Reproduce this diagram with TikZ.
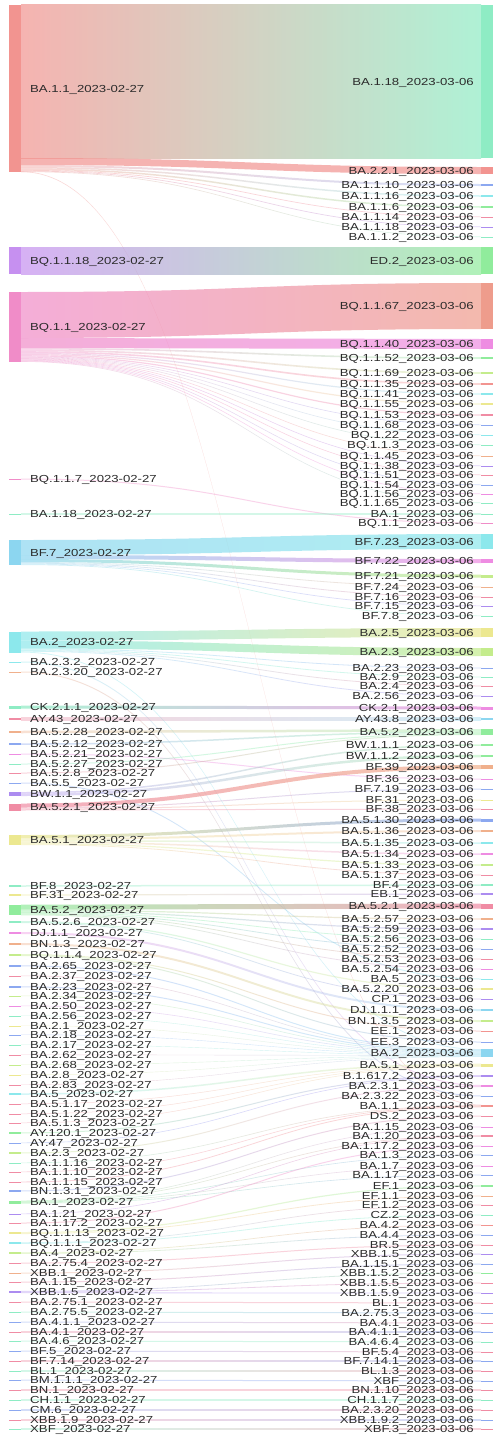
\documentclass[tikz,border=0pt]{standalone}
\usepackage{fontspec}
\setmainfont{Liberation Sans}[FakeStretch=1.29]
\usetikzlibrary{calc}
\definecolor{labtxt}{HTML}{2B2B2B}
\definecolor{cred}{HTML}{F29490}
\definecolor{cmint}{HTML}{8EECC4}
\definecolor{cpurple}{HTML}{C690F0}
\definecolor{cpink}{HTML}{F08CC8}
\definecolor{csalmon}{HTML}{EE9C8C}
\definecolor{cmagenta}{HTML}{EE8CE2}
\definecolor{csky}{HTML}{8CD6F0}
\definecolor{ccyan}{HTML}{8CE8EC}
\definecolor{cgreen}{HTML}{90EC9C}
\definecolor{clime}{HTML}{C4EC8C}
\definecolor{cyellow}{HTML}{ECE890}
\definecolor{corange}{HTML}{F0B08C}
\definecolor{cblue}{HTML}{8CA8F0}
\definecolor{clav}{HTML}{AC8CF0}
\definecolor{crose}{HTML}{F08CA4}
\pgfdeclarelayer{back}
\pgfsetlayers{back,main}
\tikzset{
  lbar/.style={rectangle, inner sep=0pt, outer sep=0pt, minimum width=12pt, draw=none},
  rbar/.style={lbar},
  llab/.style={anchor=west, inner sep=0pt, text=labtxt, font=\fontsize{10.2}{12}\selectfont, text height=7.3pt, text depth=0pt},
  rlab/.style={llab, anchor=east},
  link/.style={draw=none},
}
\newcommand\flow[5]{%
  \pgfmathsetmacro\fop{(#5<3) ? 0.38 : 0.7}
  \path ($(#1.north east)+(0,#2)$) coordinate (fa) ($(#3.north west)+(0,#4)$) coordinate (fb);
  \shade[link, fill opacity=\fop, left color=#1, right color=#3] (fa) .. controls +(230,0) and +(-230,0) .. (fb)
    -- ++(0,#5) .. controls +(-230,0) and +(230,0) .. ($(fa)+(0,#5)$) -- cycle;
}

\begin{document}
\begin{tikzpicture}[x=1pt,y=-1pt]
  \useasboundingbox (0,0) rectangle (493,1437);
  \foreach \n/\y/\h/\col/\lab in {1/88.5/167/cred/BA.1.1, 2/260.5/27/cpurple/BQ.1.1.18, 3/327/70/cpink/BQ.1.1,
    4/479/1/cpink/BQ.1.1.7, 5/514/1/cmint/BA.1.18, 6/552.5/25/csky/BF.7, 7/642/21/ccyan/BA.2,
    8/662/1/ccyan/BA.2.3.2, 9/672/1/corange/BA.2.3.20, 10/707/3/cmint/CK.2.1.1, 11/719/2.5/crose/AY.43,
    12/732/2.5/corange/BA.5.2.28, 13/744/1.5/cblue/BA.5.2.12, 14/754/1/cmagenta/BA.5.2.21, 15/764/1/cmint/BA.5.2.27,
    16/773/1/crose/BA.5.2.8, 17/783/1/cblue/BA.5.5, 18/794/4/clav/BW.1.1, 19/807/7/crose/BA.5.2.1,
    20/840/10/cyellow/BA.5.1, 21/886/1.5/cmint/BF.8, 22/895/1.2/cyellow/BF.31, 23/910/10.6/cgreen/BA.5.2,
    24/922/2/cmint/BA.5.2.6, 25/933/2/cmagenta/DJ.1.1, 26/944/2/corange/BN.1.3, 27/955/2/clime/BQ.1.1.4,
    28/966/1.2/cblue/BA.2.65, 29/976/1/crose/BA.2.37, 30/987/1.2/cblue/BA.2.23, 31/996/1/clime/BA.2.34,
    32/1006/1/cmagenta/BA.2.50, 33/1016/1/cmint/BA.2.56, 34/1026/1/cyellow/BA.2.1, 35/1035/1/cblue/BA.2.18,
    36/1045/1/cmint/BA.2.17, 37/1055/1/crose/BA.2.62, 38/1065/1/clime/BA.2.68, 39/1075/1/cyellow/BA.2.8,
    40/1085/1/crose/BA.2.83, 41/1094/1.5/ccyan/BA.5, 42/1104/1/crose/BA.5.1.17, 43/1114/1/crose/BA.5.1.22,
    44/1123/1/crose/BA.5.1.3, 45/1133/1.2/cgreen/AY.120.1, 46/1143/1/cblue/AY.47, 47/1153/1.2/clime/BA.2.3,
    48/1163/1/cmint/BA.1.1.16, 49/1172/1/crose/BA.1.1.10, 50/1182/1/crose/BA.1.1.15, 51/1191/1.2/cblue/BN.1.3.1,
    52/1202/3/cgreen/BA.1, 53/1214/1/clav/BA.1.21, 54/1223/1/crose/BA.1.17.2, 55/1233/2/cyellow/BQ.1.1.13,
    56/1243/1.5/ccyan/BQ.1.1.1, 57/1253/1.5/clime/BA.4, 58/1263/1/crose/BA.2.75.4, 59/1273/1/corange/XBB.1,
    60/1282/1/crose/BA.1.15, 61/1292/2.4/clav/XBB.1.5, 62/1302/1/crose/BA.2.75.1, 63/1312/1/cmint/BA.2.75.5,
    64/1322/1/cblue/BA.4.1.1, 65/1332/1/crose/BA.4.1, 66/1341/1/cmint/BA.4.6, 67/1351/1/cblue/BF.5,
    68/1361/1/crose/BF.7.14, 69/1371/1/cmint/BL.1, 70/1380/1/cblue/BM.1.1.1, 71/1390/1/crose/BN.1,
    72/1400/1/cmint/CH.1.1, 73/1410/1/cblue/CM.6, 74/1420/1/crose/XBB.1.9, 75/1429/1/cmint/XBF}{
    \xglobal\colorlet{L\n}{\col}
    \node[lbar, fill=\col, minimum height=\h pt] (L\n) at (15,\y) {};
    \node[llab] (LT\n) at (30,\y) {\lab\_2023-02-27};
  }
  \foreach \n/\y/\h/\col/\lab in {1/81.5/153/cmint/BA.1.18, 2/170.5/7/cred/BA.2.2.1, 3/185/2/cblue/BA.1.1.10,
    4/196/1.5/ccyan/BA.1.1.16, 5/207/1.5/cgreen/BA.1.1.6, 6/217/1/crose/BA.1.1.14, 7/227/1/clav/BA.1.1.18,
    8/237/1/cmint/BA.1.1.2, 9/260.5/27/cgreen/ED.2, 10/306/46/csalmon/BQ.1.1.67, 11/344/10/cmagenta/BQ.1.1.40,
    12/358/1.6/cgreen/BQ.1.1.52, 13/373/1.6/clime/BQ.1.1.69, 14/384/1.6/cred/BQ.1.1.35, 15/394/1.2/ccyan/BQ.1.1.41,
    16/404/1.2/cyellow/BQ.1.1.55, 17/415/1.2/crose/BQ.1.1.53, 18/425/1/cblue/BQ.1.1.68, 19/435/1/ccyan/BQ.1.22,
    20/445/1/cmint/BQ.1.1.3, 21/456/1/corange/BQ.1.1.45, 22/466/1/clav/BQ.1.1.38, 23/475/1/crose/BQ.1.1.51,
    24/485/1/cblue/BQ.1.1.54, 25/494/1/cmagenta/BQ.1.1.56, 26/503/1/cmint/BQ.1.1.65, 27/514/1/cmint/BA.1,
    28/523/1/cpink/BQ.1.1, 29/541.5/15/ccyan/BF.7.23, 30/561/4/cmagenta/BF.7.22, 31/576/3/clime/BF.7.21,
    32/587/1/corange/BF.7.24, 33/597/1/crose/BF.7.16, 34/606/1/clav/BF.7.15, 35/616/1/cmint/BF.7.8,
    36/632.5/9/cyellow/BA.2.5, 37/652/8/clime/BA.2.3, 38/668/1/cblue/BA.2.23, 39/677/1/cmint/BA.2.9,
    40/686/1/crose/BA.2.4, 41/696/1/clav/BA.2.56, 42/708/3/cmagenta/CK.2.1, 43/719/2.5/csky/AY.43.8,
    44/732/6/cgreen/BA.5.2, 45/745/1.5/cgreen/BW.1.1.1, 46/756/2.5/cgreen/BW.1.1.2, 47/767/4/corange/BF.39,
    48/779/1/cmagenta/BF.36, 49/789/1/cblue/BF.7.19, 50/800/1/cyellow/BF.31, 51/809/1/crose/BF.38,
    52/820/3/cblue/BA.5.1.30, 53/831/2/corange/BA.5.1.36, 54/843/1.5/ccyan/BA.5.1.35, 55/854/1.5/cmagenta/BA.5.1.34,
    56/865/1.2/clime/BA.5.1.33, 57/875/0.8/crose/BA.5.1.37, 58/885/1.5/cmint/BF.4, 59/894/1.2/clav/EB.1,
    60/906/5/crose/BA.5.2.1, 61/919/1.2/corange/BA.5.2.57, 62/929/1.2/clav/BA.5.2.59, 63/939/0.8/cmint/BA.5.2.56,
    64/949/0.8/cblue/BA.5.2.52, 65/959/0.8/crose/BA.5.2.53, 66/969/0.8/cmagenta/BA.5.2.54, 67/979/1/ccyan/BA.5,
    68/989/1.2/cyellow/BA.5.2.20, 69/999/0.8/clav/CP.1, 70/1010/2/csky/DJ.1.1.1, 71/1021/2/clime/BN.1.3.5,
    72/1031/1/cred/EE.1, 73/1042/1/cblue/EE.3, 74/1053/7.8/csky/BA.2, 75/1065/3/cyellow/BA.5.1,
    76/1076/1.6/clav/B.1.617.2, 77/1086/2/cmagenta/BA.2.3.1, 78/1096/1/cblue/BA.2.3.22, 79/1106/2.6/cred/BA.1.1,
    80/1116/1/crose/DS.2, 81/1127/0.6/cmagenta/BA.1.15, 82/1136/1.2/crose/BA.1.20, 83/1146/1/cmagenta/BA.1.17.2,
    84/1155/0.6/cblue/BA.1.3, 85/1166/0.6/cmagenta/BA.1.7, 86/1175/0.6/cblue/BA.1.17, 87/1186/1.2/cgreen/EF.1,
    88/1196/0.8/corange/EF.1.1, 89/1205/0.7/crose/EF.1.2, 90/1215/0.8/cmint/CZ.2, 91/1225/0.7/cred/BA.4.2,
    92/1235/0.8/cblue/BA.4.4, 93/1245/1/crose/BR.5, 94/1254/1/clav/XBB.1.5, 95/1264/1/cblue/BA.1.15.1,
    96/1273/0.8/cgreen/XBB.1.5.2, 97/1283/0.8/crose/XBB.1.5.5, 98/1293/0.8/clav/XBB.1.5.9, 99/1303/1/crose/BL.1,
    100/1313/1/cblue/BA.2.75.3, 101/1323/1/crose/BA.4.1, 102/1332/1/cblue/BA.4.1.1, 103/1342/1/cmint/BA.4.6.4,
    104/1352/1/crose/BF.5.4, 105/1361/1/cblue/BF.7.14.1, 106/1371/1/crose/BL.1.3, 107/1381/1/cblue/XBF,
    108/1390/1/crose/BN.1.10, 109/1400/1/cmint/CH.1.1.7, 110/1410/1/crose/BA.2.3.20, 111/1420/1/cblue/XBB.1.9.2,
    112/1429/1/crose/XBF.3}{
    \xglobal\colorlet{R\n}{\col}
    \node[rbar, fill=\col, minimum height=\h pt] (R\n) at (487,\y) {};
    \node[rlab] (RT\n) at (474,\y) {\lab\_2023-03-06};
  }
  \begin{pgfonlayer}{back}
    \fill[white] (0,0) rectangle (493,1437);
    \foreach \src/\sy/\dst/\dy/\w in {L1/0/R1/0/153, L1/153/R2/0/7, L1/160/R3/0/2, L1/162/R4/0/1.5,
      L1/163.5/R5/0/1.5, L1/165/R6/0/0.7, L1/165.7/R7/0/0.7, L1/166.4/R8/0/0.6, L1/166.4/R79/0/0.6,
      L2/0/R9/0/27,
      L3/0/R10/0/46, L3/46/R11/0/10, L3/56/R12/0/1.6, L3/57.6/R13/0/1.6, L3/59.2/R14/0/1.6, L3/60.8/R15/0/1.2,
      L3/62/R16/0/1.2, L3/63.2/R17/0/1.2, L3/64.4/R18/0/0.6, L3/65/R19/0/0.6, L3/65.6/R20/0/0.6, L3/66.2/R21/0/0.6,
      L3/66.8/R22/0/0.6, L3/67.4/R23/0/0.6, L3/68/R24/0/0.6, L3/68.6/R25/0/0.6, L3/69.2/R26/0/0.6,
      L4/0/R28/0/1, L5/0/R27/0/1,
      L6/0/R29/0/15, L6/15/R30/0/4, L6/19/R31/0/3, L6/22/R32/0/0.8, L6/22.8/R33/0/0.8, L6/23.6/R34/0/0.7, L6/24.3/R35/0/0.7,
      L7/0/R36/0/9, L7/9/R37/0/8, L7/17/R38/0/0.8, L7/17.8/R39/0/0.8, L7/18.6/R40/0/0.8, L7/19.4/R41/0/0.8, L7/20.2/R74/0/0.8,
      L8/0/R77/0/1, L9/0/R78/0/1, L10/0/R42/0/3, L11/0/R43/0/2.5,
      L12/0/R44/0/2.5, L13/0/R44/2.5/1.5, L14/0/R48/0/1, L15/0/R44/4/1, L16/0/R44/5/1, L17/0/R67/0/1,
      L18/0/R45/0/1.5, L18/1.5/R46/0/2.5,
      L19/0/R47/0/4, L19/4/R49/0/1, L19/5/R50/0/1, L19/6/R51/0/1,
      L20/0/R52/0/3, L20/3/R53/0/2, L20/5/R54/0/1.5, L20/6.5/R55/0/1.5, L20/8/R56/0/1.2, L20/9.2/R57/0/0.8,
      L21/0/R58/0/1.5, L22/0/R59/0/1.2,
      L23/0/R60/0/5, L23/5/R61/0/1.2, L23/6.2/R62/0/1.2, L23/7.4/R63/0/0.8, L23/8.2/R64/0/0.8, L23/9/R65/0/0.8, L23/9.8/R66/0/0.8,
      L24/0/R68/0/1.2, L24/1.2/R69/0/0.8,
      L25/0/R70/0/2, L26/0/R71/0/2, L27/0/R72/0/1, L27/1/R73/0/1,
      L28/0/R74/0.8/1, L29/0/R74/1.8/0.6, L30/0/R74/2.4/1, L31/0/R74/3.4/0.6, L32/0/R74/4/0.6, L33/0/R74/4.6/0.4,
      L34/0/R74/5/0.4, L35/0/R74/5.4/0.4, L36/0/R74/5.8/0.4, L37/0/R74/6.2/0.4, L38/0/R74/6.6/0.4, L39/0/R74/7/0.4,
      L40/0/R74/7.4/0.4,
      L41/0/R75/0/1.5, L42/0/R75/1.5/0.5, L43/0/R75/2/0.5, L44/0/R75/2.5/0.5,
      L45/0/R76/0/1, L46/0/R76/1/0.6, L47/0/R77/1/1,
      L48/0/R79/0.6/0.6, L49/0/R79/1.2/0.6, L50/0/R79/1.8/0.8, L51/0/R80/0/1,
      L52/0/R81/0/0.6, L52/0.6/R82/0/0.6, L52/1.2/R84/0/0.6, L52/1.8/R85/0/0.6, L52/2.4/R86/0/0.6,
      L53/0/R82/0.6/0.6, L54/0/R83/0/1,
      L55/0/R87/0/1.2, L55/1.2/R88/0/0.8, L56/0/R89/0/0.7, L56/0.7/R90/0/0.8, L57/0/R91/0/0.7, L57/0.7/R92/0/0.8,
      L58/0/R93/0/1, L59/0/R94/0/1, L60/0/R95/0/1, L61/0/R96/0/0.8, L61/0.8/R97/0/0.8, L61/1.6/R98/0/0.8,
      L62/0/R99/0/1, L63/0/R100/0/1}
      \flow{\src}{\sy}{\dst}{\dy}{\w};
    \foreach \i [evaluate=\i as \j using int(\i+37)] in {64,...,75}
      \flow{L\i}{0}{R\j}{0}{1};
  \end{pgfonlayer}
\end{tikzpicture}
\end{document}
